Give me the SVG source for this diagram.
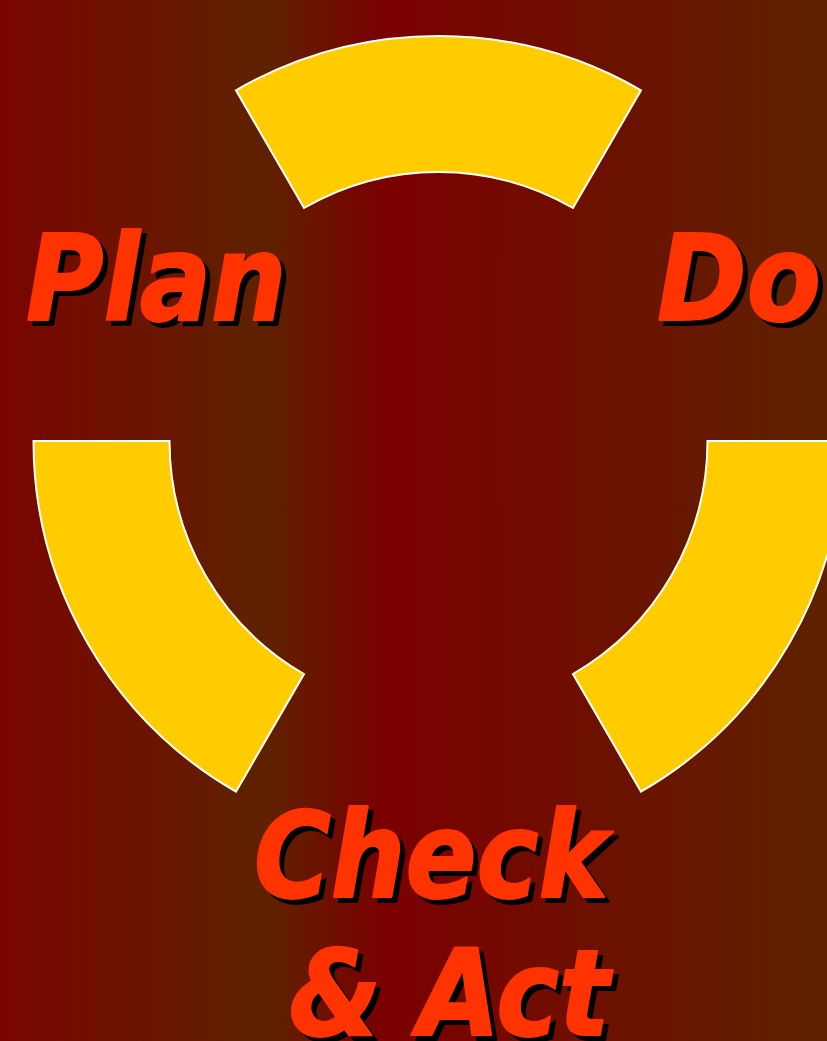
<svg xmlns="http://www.w3.org/2000/svg" width="827" height="1041" viewBox="0 0 827 1041">
<defs>
<linearGradient id="bg" x1="0" y1="0" x2="827" y2="0" gradientUnits="userSpaceOnUse">
<stop offset="0" stop-color="#7a0500"/>
<stop offset="0.32" stop-color="#5e2200"/>
<stop offset="0.465" stop-color="#7b0000"/>
<stop offset="1" stop-color="#5e2200"/>
</linearGradient>
</defs>
<style>
.seg{fill:#FFCC00;stroke:#FFFFFF;stroke-width:2;stroke-linejoin:miter}
.t{font-family:"DejaVu Sans Condensed","DejaVu Sans",sans-serif;font-weight:bold;font-style:italic;font-size:120px;stroke-width:2;stroke-linejoin:round}
.sh{fill:#000000;stroke:#000000}
.fg{fill:#FF3300;stroke:#FF3300}
</style>
<rect x="0" y="0" width="827" height="1041" fill="url(#bg)"/>
<g id="arc-top"><path class="seg" d="M236,90.3 A405,405 0 0 1 641,90.3 L573,208 A269,269 0 0 0 304,208 Z"/></g>
<g id="arc-left"><path class="seg" d="M33.5,441 A405,405 0 0 0 236,791.7 L304,674 A269,269 0 0 1 169.5,441 Z"/></g>
<g id="arc-right"><path class="seg" d="M843.5,441 A405,405 0 0 1 641,791.7 L573,674 A269,269 0 0 0 707.5,441 Z"/></g>
<g id="plan" transform="translate(26,320) scale(0.98,1)"><text class="t sh" x="5" y="5">Plan</text><text class="t fg" x="0" y="0">Plan</text></g>
<g id="do" transform="translate(657,320)"><text class="t sh" x="5" y="5">Do</text><text class="t fg" x="0" y="0">Do</text></g>
<g id="check">
<g transform="translate(254,897) scale(0.97,1)"><text class="t sh" x="5" y="5">Check</text><text class="t fg" x="0" y="0">Check</text></g>
<g transform="translate(289,1035) scale(0.98,1)"><text class="t sh" x="5" y="5">&amp; Act</text><text class="t fg" x="0" y="0">&amp; Act</text></g>
</g>
</svg>
